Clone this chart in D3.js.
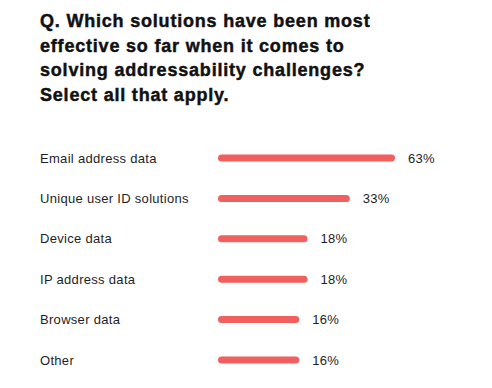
<!DOCTYPE html>
<html lang="en">
<head>
  <meta charset="UTF-8">
  <title>Addressability solutions</title>
  <script src="https://d3js.org/d3.v7.min.js"></script>
  <style>
    body { margin: 0; background: #fff; }
    .title { font-family: "Liberation Sans", Arial, sans-serif; font-weight: bold; font-size: 18px; fill: #111; stroke: #111; stroke-width: 0.45px; letter-spacing: 0.8px; }
    .label { font-family: "Liberation Sans", Arial, sans-serif; font-size: 13px; fill: #1e1e28; letter-spacing: 0.3px; }
    .value { font-family: "Liberation Sans", Arial, sans-serif; font-size: 13px; fill: #1e1e28; letter-spacing: 0.3px; }
  </style>
</head>
<body>
  <svg width="492" height="388"></svg>
  <script>
    const titleLines = [
      'Q. Which solutions have been most',
      'effective so far when it comes to',
      'solving addressability challenges?',
      'Select all that apply.'
    ];
    const categories = ['Email address data', 'Unique user ID solutions', 'Device data', 'IP address data', 'Browser data', 'Other'];
    const values = [63, 33, 18, 18, 16, 16];

    const svg = d3.select('svg');
    const barX = 218;
    const barH = 7;

    svg.selectAll('.title')
      .data(titleLines)
      .enter()
      .append('text')
      .attr('class', 'title')
      .attr('x', 40)
      .attr('y', (_, i) => 27 + i * 24.5)
      .text(d => d);

    const y = d3.scalePoint().domain(categories).range([158, 360]);
    // bar lengths in the original are not proportional; a log scale follows them well
    const x = d3.scaleLog().domain([5, 63]).range([0, 177]);

    const rows = svg.selectAll('.row')
      .data(categories)
      .enter()
      .append('g')
      .attr('class', 'row')
      .attr('transform', d => `translate(0,${y(d)})`);

    rows.append('text')
      .attr('class', 'label')
      .attr('x', 40)
      .attr('dy', '0.35em')
      .text(d => d);

    rows.append('rect')
      .attr('x', barX)
      .attr('y', -barH / 2)
      .attr('height', barH)
      .attr('rx', barH / 2)
      .attr('width', (_, i) => x(values[i]))
      .attr('fill', '#f25f5f');

    rows.append('text')
      .attr('class', 'value')
      .attr('x', (_, i) => barX + x(values[i]) + 13)
      .attr('dy', '0.35em')
      .text((_, i) => values[i] + '%');
  </script>
</body>
</html>
